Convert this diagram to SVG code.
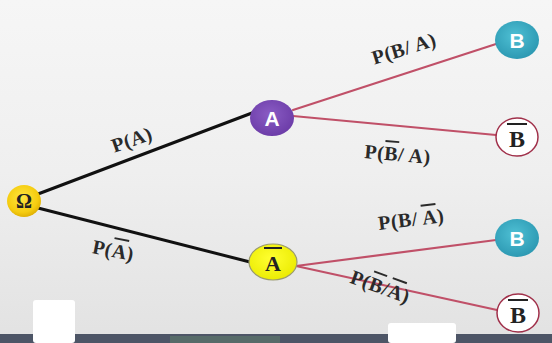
<svg xmlns="http://www.w3.org/2000/svg" width="552" height="343" viewBox="0 0 552 343">
  <defs>
    <linearGradient id="bg" x1="0" y1="0" x2="0" y2="1">
      <stop offset="0" stop-color="#f6f6f6"/>
      <stop offset="0.5" stop-color="#efefef"/>
      <stop offset="1" stop-color="#e2e2e2"/>
    </linearGradient>
    <radialGradient id="gold" cx="0.45" cy="0.4" r="0.65">
      <stop offset="0" stop-color="#ffe640"/>
      <stop offset="0.7" stop-color="#f5cc10"/>
      <stop offset="1" stop-color="#d9a800"/>
    </radialGradient>
    <radialGradient id="purple" cx="0.45" cy="0.4" r="0.65">
      <stop offset="0" stop-color="#8a5cc4"/>
      <stop offset="1" stop-color="#6a3aa6"/>
    </radialGradient>
    <radialGradient id="teal" cx="0.45" cy="0.4" r="0.65">
      <stop offset="0" stop-color="#4fc0d4"/>
      <stop offset="1" stop-color="#2a96b0"/>
    </radialGradient>
    <radialGradient id="lemon" cx="0.45" cy="0.4" r="0.65">
      <stop offset="0" stop-color="#ffff30"/>
      <stop offset="1" stop-color="#eaea00"/>
    </radialGradient>
  </defs>
  <style>
    .lbl { font-family: "Liberation Serif", "Times New Roman", serif; font-weight: bold; font-size: 20px; letter-spacing: 0.5px; fill: #2a2a2a; }
    .sans { font-family: "Liberation Sans", Arial, sans-serif; font-weight: bold; fill: #ffffff; }
    .ser { font-family: "Liberation Serif", "Times New Roman", serif; font-weight: bold; fill: #222222; }
    .trunk { stroke: #111111; stroke-width: 3; fill: none; stroke-linecap: round; }
    .branch { stroke: #c05068; stroke-width: 2.2; fill: none; stroke-linecap: round; }
  </style>

  <!-- background -->
  <rect x="0" y="0" width="552" height="343" fill="url(#bg)"/>
  <rect x="0" y="334" width="552" height="9" fill="#4d5566"/>
  <rect x="170" y="336" width="110" height="7" fill="#5f7a6a" opacity="0.6"/>
  <rect x="33" y="300" width="42" height="43" rx="3" fill="#ffffff"/>
  <rect x="388" y="323" width="68" height="20" rx="3" fill="#ffffff"/>

  <!-- connectors -->
  <g id="connectors">
    <line class="trunk" x1="38" y1="194" x2="252" y2="113"/>
    <line class="trunk" x1="38" y1="208" x2="250" y2="262"/>
    <line class="branch" x1="293" y1="110" x2="496" y2="44"/>
    <line class="branch" x1="293" y1="116" x2="496" y2="135"/>
    <line class="branch" x1="296" y1="266" x2="496" y2="240"/>
    <line class="branch" x1="296" y1="266" x2="497" y2="310"/>
  </g>

  <!-- edge labels -->
  <g id="labels">
    <text class="lbl" transform="translate(134,146) rotate(-19)" text-anchor="middle">P(A)</text>
    <text class="lbl" transform="translate(112,257) rotate(11)" text-anchor="middle">P(<tspan text-decoration="overline">A</tspan>)</text>
    <text class="lbl" transform="translate(406,55) rotate(-17)" text-anchor="middle">P(B/ A)</text>
    <text class="lbl" transform="translate(397,161) rotate(5)" text-anchor="middle">P(<tspan text-decoration="overline">B</tspan>/ A)</text>
    <text class="lbl" transform="translate(412,226) rotate(-7)" text-anchor="middle">P(B/ <tspan text-decoration="overline">A</tspan>)</text>
    <text class="lbl" transform="translate(378,293) rotate(20)" text-anchor="middle">P(<tspan text-decoration="overline">B</tspan>/<tspan text-decoration="overline">A</tspan>)</text>
  </g>

  <!-- nodes -->
  <g id="omega">
    <ellipse cx="24" cy="201" rx="17" ry="16" fill="url(#gold)"/>
    <text class="ser" x="24" y="208" font-size="20" text-anchor="middle" fill="#3a2a00">Ω</text>
  </g>
  <g id="nodeA">
    <ellipse cx="272" cy="118" rx="22" ry="18" fill="url(#purple)"/>
    <text class="sans" x="272" y="126" font-size="21" text-anchor="middle">A</text>
  </g>
  <g id="nodeNotA">
    <ellipse cx="273" cy="262" rx="24" ry="18" fill="url(#lemon)" stroke="#9a9a70" stroke-width="1.2"/>
    <text class="ser" x="273" y="271" font-size="22" text-anchor="middle">A</text>
    <line x1="264" y1="248" x2="282" y2="248" stroke="#222" stroke-width="2"/>
  </g>
  <g id="nodeB1">
    <ellipse cx="517" cy="40" rx="22" ry="19" fill="url(#teal)"/>
    <text class="sans" x="517" y="48" font-size="21" text-anchor="middle">B</text>
  </g>
  <g id="nodeNotB1">
    <ellipse cx="517" cy="137" rx="21" ry="19" fill="#ffffff" stroke="#a0304a" stroke-width="1.5"/>
    <text class="ser" x="517" y="147" font-size="24" text-anchor="middle">B</text>
    <line x1="507" y1="124" x2="527" y2="124" stroke="#222" stroke-width="2"/>
  </g>
  <g id="nodeB2">
    <ellipse cx="517" cy="238" rx="22" ry="19" fill="url(#teal)"/>
    <text class="sans" x="517" y="246" font-size="21" text-anchor="middle">B</text>
  </g>
  <g id="nodeNotB2">
    <ellipse cx="518" cy="313" rx="21" ry="19" fill="#ffffff" stroke="#a0304a" stroke-width="1.5"/>
    <text class="ser" x="518" y="323" font-size="24" text-anchor="middle">B</text>
    <line x1="508" y1="300" x2="528" y2="300" stroke="#222" stroke-width="2"/>
  </g>
</svg>
